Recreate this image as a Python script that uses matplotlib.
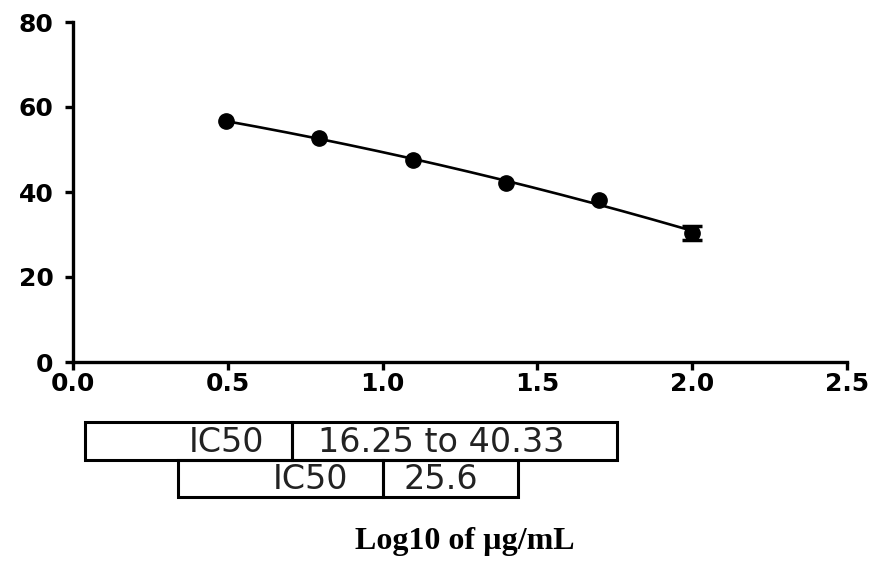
from matplotlib import pyplot as plt
from matplotlib.patches import Rectangle
import numpy as np

# data
log_conc = [0.495, 0.796, 1.097, 1.398, 1.699, 2.0]
inhibition = [56.7, 52.7, 47.5, 42.1, 38.1, 30.4]
inhibition_err = [0.0, 0.0, 0.0, 0.0, 0.0, 1.7]

xticks = [0.0, 0.5, 1.0, 1.5, 2.0, 2.5]
yticks = [0, 20, 40, 60, 80]

table_rows = [['IC50', '16.25 to 40.33'], ['IC50', '25.6']]
xlabel = 'Log10 of \u00b5g/mL'


def visualize():
    W, H = 876, 570
    fig = plt.figure(figsize=(W / 100, H / 100), dpi=100)

    ax = fig.add_axes([73 / W, (H - 362) / H, (847 - 73) / W, 340 / H])

    # fitted curve (quadratic through the points)
    coef = np.polyfit(log_conc, inhibition, 2)
    xs = np.linspace(log_conc[0], log_conc[-1], 200)
    ax.plot(xs, np.polyval(coef, xs), color='black', lw=1.9, zorder=2)

    ax.plot(log_conc, inhibition, 'o', color='black', ms=11, zorder=3)
    ex = [x for x, e in zip(log_conc, inhibition_err) if e > 0]
    ey = [y for y, e in zip(inhibition, inhibition_err) if e > 0]
    ee = [e for e in inhibition_err if e > 0]
    ax.errorbar(ex, ey, yerr=ee, fmt='none', ecolor='black',
                capsize=7, elinewidth=2, capthick=2.5, zorder=3)

    ax.set_xlim(0, 2.5)
    ax.set_ylim(0, 80)
    ax.set_xticks(xticks)
    ax.set_yticks(yticks)
    ax.set_xticklabels(['%.1f' % t for t in xticks])
    ax.set_yticklabels([str(t) for t in yticks])

    for s in ['top', 'right']:
        ax.spines[s].set_visible(False)
    for s in ['left', 'bottom']:
        ax.spines[s].set_linewidth(2.4)
    ax.tick_params(direction='out', length=6, width=2.4, colors='black')
    ax.tick_params(axis='y', pad=8)
    ax.tick_params(axis='x', pad=1)
    for lab in ax.get_xticklabels() + ax.get_yticklabels():
        lab.set_fontweight('bold')
        lab.set_fontsize(18)
        lab.set_family('DejaVu Sans')

    # table drawn in pixel space
    ov = fig.add_axes([0, 0, 1, 1], zorder=-1)
    ov.set_xlim(0, W)
    ov.set_ylim(H, 0)
    ov.axis('off')

    cells = [
        # (x0, x1, divider, y0, y1, label_right, value_left)
        (85, 617, 292, 422, 460, 264, 318),
        (178, 518, 383, 460, 497, 348, 404),
    ]
    for (x0, x1, xd, y0, y1, lr, vl), row in zip(cells, table_rows):
        ov.add_patch(Rectangle((x0, y0), xd - x0, y1 - y0, fill=False,
                               ec='black', lw=2.2))
        ov.add_patch(Rectangle((xd, y0), x1 - xd, y1 - y0, fill=False,
                               ec='black', lw=2.2))
        ym = (y0 + y1) / 2 + 1
        ov.text(lr, ym, row[0], ha='right', va='center', fontsize=24,
                color='#222222', family='DejaVu Sans')
        ov.text(vl, ym, row[1], ha='left', va='center', fontsize=24,
                color='#222222', family='DejaVu Sans')

    ov.text(465, 542, xlabel, ha='center', va='center', fontsize=23,
            fontweight='bold', family='Liberation Serif')

    plt.savefig('out.png', dpi=100)


if __name__ == '__main__':
    visualize()
